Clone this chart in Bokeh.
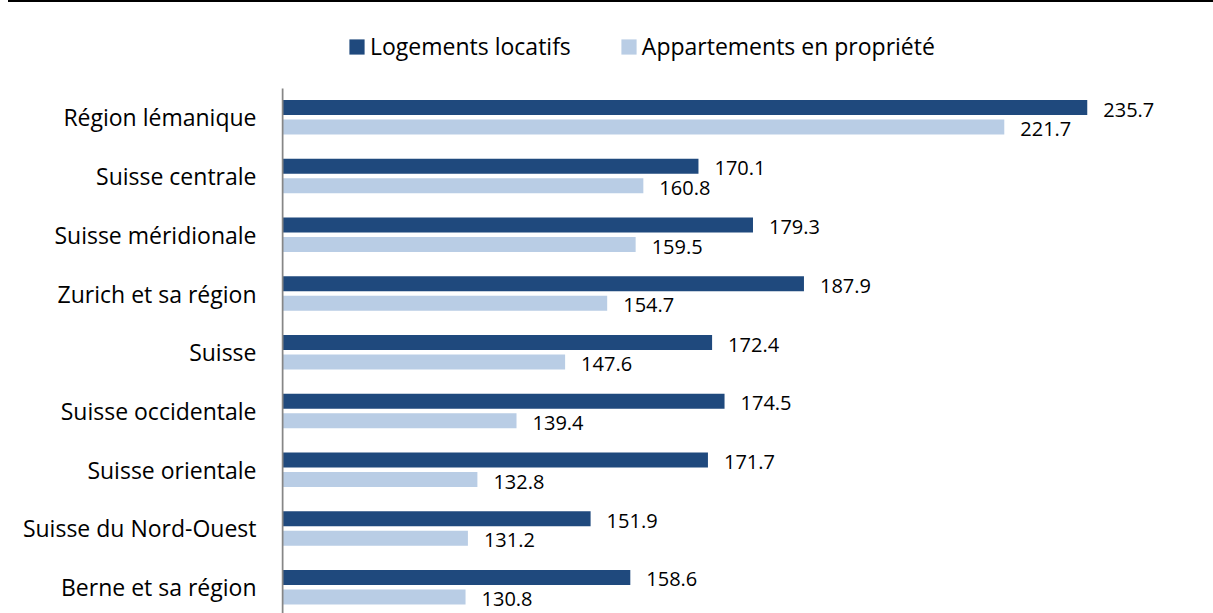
from bokeh.plotting import figure
from bokeh.layouts import column
from bokeh.models import (ColumnDataSource, Range1d, FixedTicker, Legend, LegendItem, Div)
from bokeh.embed import file_html
from bokeh.resources import INLINE
from bokeh.core.properties import value

# ---- data (top to bottom, as in the chart) ----
regions = ["Région lémanique", "Suisse centrale", "Suisse méridionale",
           "Zurich et sa région", "Suisse", "Suisse occidentale",
           "Suisse orientale", "Suisse du Nord-Ouest", "Berne et sa région"]
rental = [235.7, 170.1, 179.3, 187.9, 172.4, 174.5, 171.7, 151.9, 158.6]
owned = [221.7, 160.8, 159.5, 154.7, 147.6, 139.4, 132.8, 131.2, 130.8]
series_names = ["Logements locatifs", "Appartements en propriété"]

# ---- style / layout ----
DARK = "#1F497D"
LIGHT = "#B9CDE5"
FONT = "Open Sans"
FS_CAT = "23px"
FS_VAL = "20px"
BASE = 100          # value axis minimum (bars start here)
X_START = 99.747
X_END = 257.0
Y_START = -0.447
Y_END = 9.954
OFF = 0.166
BAR_H = 0.256

n = len(regions)
pos = [n - 1 - i for i in range(n)]
PLOT_TOP = pos[0] + 0.490
AXIS_X = X_START + 1.0 / 5.927

src = ColumnDataSource(dict(
    region=regions,
    rental=rental,
    owned=owned,
    y_r=[q + OFF for q in pos],
    y_o=[q - OFF for q in pos],
    lab_r=[f"{v:.1f}" for v in rental],
    lab_o=[f"{v:.1f}" for v in owned],
))

W, H = 1213, 611
p = figure(width=W, height=H, output_backend="svg", toolbar_location=None,
           title=None, x_axis_location=None,
           x_range=Range1d(X_START, X_END), y_range=Range1d(Y_START, Y_END),
           min_border_left=281, min_border_right=0, min_border_top=0,
           min_border_bottom=0)
p.grid.visible = False
p.outline_line_color = None
p.background_fill_color = "white"
p.border_fill_color = "white"

r1 = p.hbar(y="y_r", left=BASE, right="rental", height=BAR_H, source=src,
            fill_color=DARK, line_color=None)
r2 = p.hbar(y="y_o", left=BASE, right="owned", height=BAR_H, source=src,
            fill_color=LIGHT, line_color=None)

p.text(x="rental", y="y_r", text="lab_r", source=src, x_offset=16, y_offset=2,
       text_align="left", text_baseline="middle", text_font=value(FONT),
       text_font_size=FS_VAL, text_color="black")
p.text(x="owned", y="y_o", text="lab_o", source=src, x_offset=16, y_offset=2,
       text_align="left", text_baseline="middle", text_font=value(FONT),
       text_font_size=FS_VAL, text_color="black")

# category axis line (plot area left edge)
p.segment(x0=[AXIS_X], y0=[Y_START], x1=[AXIS_X], y1=[PLOT_TOP],
          line_color="#868686", line_width=2)

ax = p.yaxis[0]
ax.ticker = FixedTicker(ticks=pos)
ax.major_label_overrides = {q: r for q, r in zip(pos, regions)}
ax.axis_line_color = None
ax.major_tick_line_color = None
ax.minor_tick_line_color = None
ax.major_tick_out = 0
ax.major_label_standoff = 25
ax.major_label_text_font = FONT
ax.major_label_text_font_size = FS_CAT
ax.major_label_text_color = "black"

legend = Legend(items=[LegendItem(label=series_names[0], renderers=[r1]),
                       LegendItem(label=series_names[1], renderers=[r2])],
                orientation="horizontal", location=(66, 551),
                border_line_color=None, background_fill_alpha=0,
                padding=0, margin=0, spacing=48, glyph_width=19,
                glyph_height=19, label_standoff=4,
                label_text_font=FONT, label_text_font_size=FS_CAT,
                label_text_color="black")
p.add_layout(legend)

# black rule at the top of the page
rule = Div(text="", width=W - 8, height=2, margin=(0, 0, 0, 8),
           styles={"background-color": "black"})

layout = column(rule, p, spacing=0)
open("out.html", "w").write(file_html(layout, INLINE))
